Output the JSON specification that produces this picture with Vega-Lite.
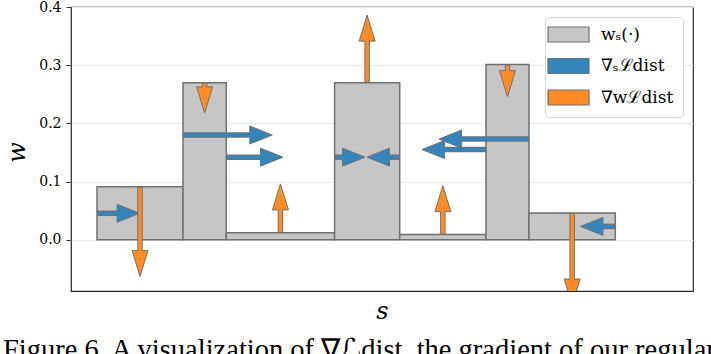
{
  "$schema": "https://vega.github.io/schema/vega-lite/v6.json",
  "autosize": "none",
  "width": 622,
  "height": 284,
  "padding": {"left": 71, "top": 7, "right": 18, "bottom": 63},
  "background": "white",
  "title": {
    "text": "Figure 6. A visualization of ∇ℒdist, the gradient of our regular",
    "orient": "bottom",
    "anchor": "start",
    "frame": "group",
    "dx": -68,
    "offset": 36,
    "baseline": "alphabetic",
    "font": "Liberation Serif",
    "fontSize": 28.5,
    "fontWeight": "normal",
    "color": "black"
  },
  "config": {
    "view": {"stroke": "#262626", "strokeWidth": 1.2},
    "legend": {
      "orient": "top-right",
      "offset": 10,
      "symbolType": "M-2.733,-1H2.733V1H-2.733Z",
      "symbolSize": 225,
      "symbolStrokeColor": "#707070",
      "symbolStrokeWidth": 1.2,
      "symbolOpacity": 1,
      "symbolOffset": 6,
      "labelOffset": 24,
      "labelFont": "DejaVu Serif",
      "labelFontSize": 17,
      "labelColor": "black",
      "labelLimit": 300,
      "rowPadding": 10.5,
      "padding": 9,
      "strokeColor": "#d6d6d6",
      "fillColor": "rgba(255,255,255,0.85)",
      "cornerRadius": 4
    }
  },
  "datasets": {
    "bins": [
      {"s0": 0.26, "s1": 1.12, "w": 0.091, "series": "wₛ(·)"},
      {"s0": 1.12, "s1": 1.553, "w": 0.27, "series": "wₛ(·)"},
      {"s0": 1.553, "s1": 2.636, "w": 0.012, "series": "wₛ(·)"},
      {"s0": 2.636, "s1": 3.287, "w": 0.27, "series": "wₛ(·)"},
      {"s0": 3.287, "s1": 4.15, "w": 0.009, "series": "wₛ(·)"},
      {"s0": 4.15, "s1": 4.58, "w": 0.301, "series": "wₛ(·)"},
      {"s0": 4.58, "s1": 5.443, "w": 0.046, "series": "wₛ(·)"}
    ],
    "arrows": [
      {"series": "∇ₛℒdist", "dir": "right", "s": 0.26, "w": 0.0455, "st": 0.686, "wt": 0.0455},
      {"series": "∇ₛℒdist", "dir": "right", "s": 1.12, "w": 0.18, "st": 2.013, "wt": 0.18},
      {"series": "∇ₛℒdist", "dir": "right", "s": 1.553, "w": 0.142, "st": 2.12, "wt": 0.142},
      {"series": "∇ₛℒdist", "dir": "right", "s": 2.636, "w": 0.142, "st": 2.94, "wt": 0.142},
      {"series": "∇ₛℒdist", "dir": "left", "s": 3.287, "w": 0.142, "st": 2.96, "wt": 0.142},
      {"series": "∇ₛℒdist", "dir": "left", "s": 4.15, "w": 0.155, "st": 3.51, "wt": 0.155},
      {"series": "∇ₛℒdist", "dir": "left", "s": 4.58, "w": 0.173, "st": 3.68, "wt": 0.173},
      {"series": "∇ₛℒdist", "dir": "left", "s": 5.443, "w": 0.023, "st": 5.095, "wt": 0.023},
      {"series": "∇wℒdist", "dir": "down", "s": 0.69, "w": 0.091, "st": 0.69, "wt": -0.063},
      {"series": "∇wℒdist", "dir": "down", "s": 1.3365, "w": 0.27, "st": 1.3365, "wt": 0.218},
      {"series": "∇wℒdist", "dir": "up", "s": 2.0945, "w": 0.012, "st": 2.0945, "wt": 0.096},
      {"series": "∇wℒdist", "dir": "up", "s": 2.9615, "w": 0.27, "st": 2.9615, "wt": 0.386},
      {"series": "∇wℒdist", "dir": "up", "s": 3.7185, "w": 0.009, "st": 3.7185, "wt": 0.093},
      {"series": "∇wℒdist", "dir": "down", "s": 4.365, "w": 0.301, "st": 4.365, "wt": 0.246},
      {"series": "∇wℒdist", "dir": "down", "s": 5.0115, "w": 0.046, "st": 5.0115, "wt": -0.112}
    ]
  },
  "encoding": {
    "x": {
      "type": "quantitative",
      "scale": {"domain": [0, 6.22], "nice": false, "zero": false},
      "axis": {
        "title": "s", "labels": false, "ticks": false, "domain": false, "grid": false,
        "titleFont": "DejaVu Serif", "titleFontStyle": "italic", "titleFontWeight": "normal",
        "titleFontSize": 24, "titleColor": "black", "titleBaseline": "alphabetic", "titleY": 27
      }
    },
    "y": {
      "type": "quantitative",
      "scale": {"domain": [-0.088, 0.4], "nice": false, "zero": false},
      "axis": {
        "title": "w", "values": [0, 0.1, 0.2, 0.3, 0.4], "format": ".1f",
        "grid": true, "gridColor": "#ebebeb", "gridWidth": 1,
        "domain": false, "tickSize": 5, "tickColor": "#333333", "tickWidth": 1,
        "labelFont": "DejaVu Serif", "labelFontSize": 14, "labelColor": "black", "labelPadding": 5,
        "titleFont": "DejaVu Serif", "titleFontStyle": "italic", "titleFontWeight": "normal",
        "titleFontSize": 24, "titleColor": "black", "titleBaseline": "alphabetic",
        "titleX": -47, "titleY": 145
      }
    }
  },
  "layer": [
    {
      "data": {"name": "bins"},
      "mark": {"type": "rect", "stroke": "#707070", "strokeWidth": 1.5},
      "encoding": {
        "x": {"field": "s0", "type": "quantitative"},
        "x2": {"field": "s1"},
        "y": {"field": "w", "type": "quantitative"},
        "y2": {"datum": 0},
        "fill": {
          "field": "series", "type": "nominal", "title": null,
          "scale": {"domain": ["wₛ(·)", "∇ₛℒdist", "∇wℒdist"], "range": ["#c6c6c6", "#3585bb", "#ff8c26"]}
        }
      }
    },
    {
      "mark": {"type": "rule", "color": "black", "strokeWidth": 1.6},
      "encoding": {"y": {"datum": 0}}
    },
    {
      "data": {"name": "arrows"},
      "transform": [{"filter": "datum.dir == 'right'"}],
      "mark": {"type": "rule", "stroke": "#707070", "strokeWidth": 5.5, "strokeCap": "butt", "x2Offset": -12, "clip": true},
      "encoding": {"x": {"field": "s", "type": "quantitative"}, "x2": {"field": "st"}, "y": {"field": "w", "type": "quantitative"}}
    },
    {
      "data": {"name": "arrows"},
      "transform": [{"filter": "datum.dir == 'left'"}],
      "mark": {"type": "rule", "stroke": "#707070", "strokeWidth": 5.5, "strokeCap": "butt", "x2Offset": 12, "clip": true},
      "encoding": {"x": {"field": "s", "type": "quantitative"}, "x2": {"field": "st"}, "y": {"field": "w", "type": "quantitative"}}
    },
    {
      "data": {"name": "arrows"},
      "transform": [{"filter": "datum.dir == 'up'"}],
      "mark": {"type": "rule", "stroke": "#707070", "strokeWidth": 5.5, "strokeCap": "butt", "y2Offset": 12, "clip": true},
      "encoding": {"x": {"field": "s", "type": "quantitative"}, "y": {"field": "w", "type": "quantitative"}, "y2": {"field": "wt"}}
    },
    {
      "data": {"name": "arrows"},
      "transform": [{"filter": "datum.dir == 'down'"}],
      "mark": {"type": "rule", "stroke": "#707070", "strokeWidth": 5.5, "strokeCap": "butt", "y2Offset": -12, "clip": true},
      "encoding": {"x": {"field": "s", "type": "quantitative"}, "y": {"field": "w", "type": "quantitative"}, "y2": {"field": "wt"}}
    },
    {
      "data": {"name": "arrows"},
      "mark": {"type": "point", "filled": true, "opacity": 1, "stroke": "#707070", "strokeWidth": 1, "size": 100, "clip": true},
      "encoding": {
        "x": {"field": "st", "type": "quantitative"},
        "y": {"field": "wt", "type": "quantitative"},
        "fill": {"field": "series", "type": "nominal"},
        "shape": {
          "field": "series", "type": "nominal", "legend": null,
          "scale": {"domain": ["∇ₛℒdist", "∇wℒdist"], "range": ["M0,0L-4.5,-1.8L-4.5,1.8Z", "M0,0L1.6,5.2L-1.6,5.2Z"]}
        },
        "angle": {"condition": {"test": "datum.st < datum.s || datum.wt < datum.w", "value": 180}, "value": 0}
      }
    },
    {
      "data": {"name": "arrows"},
      "transform": [{"filter": "datum.dir == 'right'"}],
      "mark": {"type": "rule", "stroke": "#3585bb", "strokeWidth": 3.5, "strokeCap": "butt", "xOffset": 1, "x2Offset": -12, "clip": true},
      "encoding": {"x": {"field": "s", "type": "quantitative"}, "x2": {"field": "st"}, "y": {"field": "w", "type": "quantitative"}}
    },
    {
      "data": {"name": "arrows"},
      "transform": [{"filter": "datum.dir == 'left'"}],
      "mark": {"type": "rule", "stroke": "#3585bb", "strokeWidth": 3.5, "strokeCap": "butt", "xOffset": -1, "x2Offset": 12, "clip": true},
      "encoding": {"x": {"field": "s", "type": "quantitative"}, "x2": {"field": "st"}, "y": {"field": "w", "type": "quantitative"}}
    },
    {
      "data": {"name": "arrows"},
      "transform": [{"filter": "datum.dir == 'up'"}],
      "mark": {"type": "rule", "stroke": "#ff8c26", "strokeWidth": 3.5, "strokeCap": "butt", "yOffset": -1, "y2Offset": 12, "clip": true},
      "encoding": {"x": {"field": "s", "type": "quantitative"}, "y": {"field": "w", "type": "quantitative"}, "y2": {"field": "wt"}}
    },
    {
      "data": {"name": "arrows"},
      "transform": [{"filter": "datum.dir == 'down'"}],
      "mark": {"type": "rule", "stroke": "#ff8c26", "strokeWidth": 3.5, "strokeCap": "butt", "yOffset": 1, "y2Offset": -12, "clip": true},
      "encoding": {"x": {"field": "s", "type": "quantitative"}, "y": {"field": "w", "type": "quantitative"}, "y2": {"field": "wt"}}
    }
  ]
}
